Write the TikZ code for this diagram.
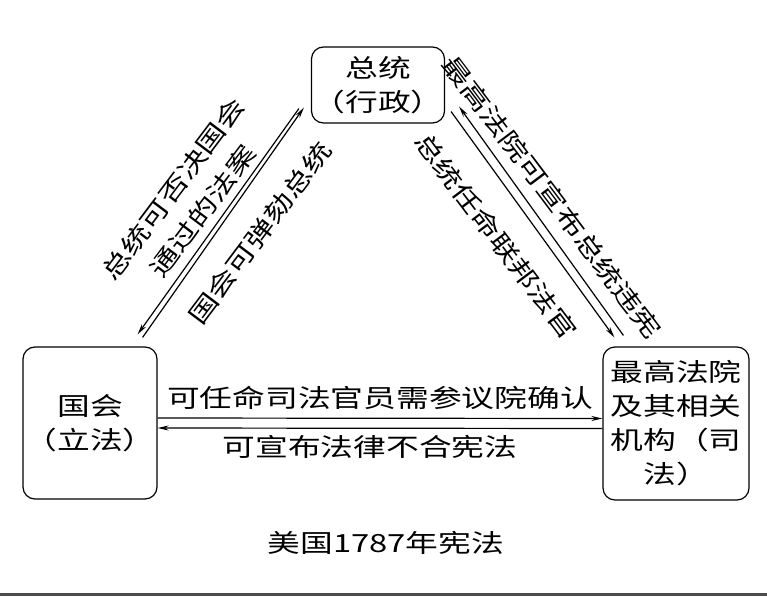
\documentclass[tikz,border=0pt]{standalone}
\usepackage{fontspec}
\usepackage{tikz}
\usetikzlibrary{arrows.meta}
\newfontfamily\cjk[FakeStretch=1.31]{Noto Sans CJK SC}

\begin{document}
\begin{tikzpicture}[x=1pt,y=-1pt,
        branch/.style={draw,line width=1.2pt,rounded corners=12pt,align=center,inner sep=0pt,
            font=\cjk\fontsize{25}{34}\selectfont},
        power/.style={align=center,inner sep=0pt,font=\cjk\fontsize{25}{36}\selectfont},
        slant/.style={power,font=\cjk\fontsize{24}{37}\selectfont},
        check/.style={-{Stealth[length=11pt,width=5pt]},line width=1.2pt}]

    \useasboundingbox (0,0) rectangle (767,596);

    % The three branches
    \node[branch,minimum width=133pt,minimum height=76pt] (zt) at (378,85) {总统\\（行政）};
    \node[branch,minimum width=134pt,minimum height=152pt] (gh) at (90,423) {国会\\（立法）};
    \node[branch,minimum width=146pt,minimum height=153pt] (fy) at (676,423.5) {最高法院\\及其相关\\机构（司\\法）};

    % Checks between the branches
    \draw[check] ([shift={(-12,-15)}]zt.south west) -- ([shift={(-20,-12)}]gh.north east);
    \draw[check] ([shift={(-15,-9)}]gh.north east) -- ([shift={(-7,-16)}]zt.south west);

    \draw[check] ([shift={(6,-12)}]zt.south east) -- ([shift={(12,-9)}]fy.north west);
    \draw[check] ([shift={(21,-11)}]fy.north west) -- ([shift={(14,-17)}]zt.south east);

    \draw[check] ([yshift=5pt]gh.east) -- ([yshift=5pt]fy.west);
    \draw[check] ([yshift=-5pt]fy.west) -- ([yshift=-5pt]gh.east);

    % Labels of the checks
    \node[slant,rotate=53] (veto) at (188,200) {总统可否决国会\\通过的法案};
    \node[slant,rotate=53] (impeach) at (260,233) {国会可弹劾总统};
    \node[slant,rotate=-53] (review) at (552,197) {最高法院可宣布总统违宪};
    \node[slant,rotate=-53] (appoint) at (496,236) {总统任命联邦法官};
    \node[power] (confirm) at (380,398) {可任命司法官员需参议院确认};
    \node[power] (strike) at (370,447) {可宣布法律不合宪法};

    % Caption
    \node[power] (caption) at (386,543) {美国1787年宪法};
    \draw[line width=3pt,black!70] (0,594) -- (767,594);

\end{tikzpicture}
\end{document}
